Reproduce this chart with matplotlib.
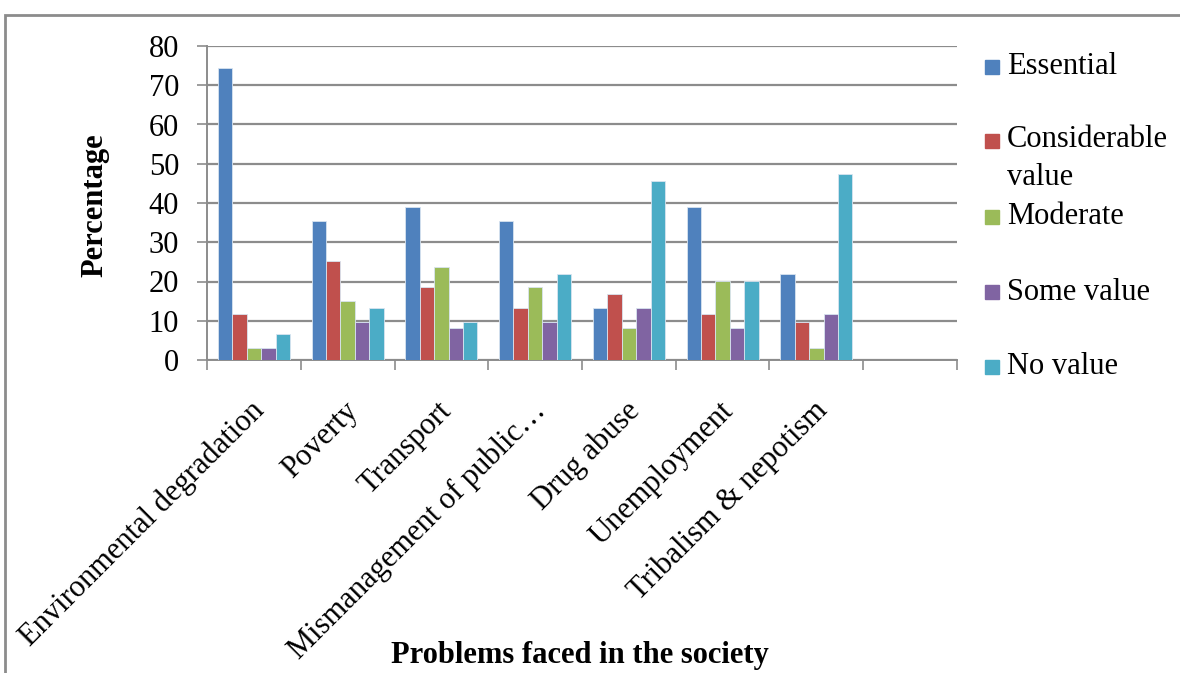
import numpy as np
import matplotlib
matplotlib.use("Agg")
from matplotlib import pyplot as plt
from matplotlib.patches import Rectangle
import matplotlib.transforms as mtransforms

plt.rcParams['font.family'] = ['Liberation Serif', 'DejaVu Serif']

problems = ['Environmental degradation', 'Poverty', 'Transport',
            'Mismanagement of public…', 'Drug abuse', 'Unemployment',
            'Tribalism & nepotism']
ratings = ['Essential', 'Considerable\nvalue', 'Moderate', 'Some value', 'No value']
colors = ['#4F81BD', '#C0504D', '#9BBB59', '#8064A2', '#4BACC6']

essential = [74.5, 35.5, 38.9, 35.5, 13.3, 38.9, 21.8]
considerable = [11.6, 25.3, 18.5, 13.3, 16.7, 11.6, 9.8]
moderate = [3.0, 15.0, 23.6, 18.5, 8.2, 20.2, 3.0]
some_value = [3.0, 9.8, 8.2, 9.8, 13.3, 8.2, 11.6]
no_value = [6.5, 13.3, 9.8, 21.8, 45.7, 20.2, 47.4]
series = [essential, considerable, moderate, some_value, no_value]

W, H = 1180, 673
fig = plt.figure(figsize=(W / 100, H / 100), dpi=100)
ax = fig.add_axes([207 / W, 1 - 360 / H, (957 - 207) / W, (360 - 46) / H])

# 8 slots on the category axis, the last one is left empty
x = np.arange(len(problems))
bw = 0.154
for i, vals in enumerate(series):
    ax.bar(x + (i - 2) * bw, vals, width=bw, color=colors[i],
           edgecolor='#d8e4f0', linewidth=0.6, zorder=3)

ax.set_xlim(-0.5, 7.5)
ax.set_ylim(0, 80)
ax.set_yticks(range(0, 81, 10))
ax.yaxis.grid(True, color='#8c8c8c', linewidth=1.6, zorder=0)

ax.set_xticks(np.arange(0, 9) - 0.5, minor=False)
ax.set_xticklabels([])
ax.set_xticks(x, minor=True)
ax.set_xticklabels(problems, minor=True, rotation=45, ha='right',
                   rotation_mode='anchor', fontsize=22)
ax.tick_params(axis='x', which='minor', length=0, pad=26)
ax.tick_params(axis='x', which='major', length=7, color='#8c8c8c', width=1.2)
ax.tick_params(axis='y', length=7, color='#8c8c8c', width=1.2, labelsize=22, pad=13)
shift = mtransforms.ScaledTranslation(-4 / 100, 0, fig.dpi_scale_trans)
for lab in ax.xaxis.get_minorticklabels():
    lab.set_transform(lab.get_transform() + shift)

for s in ['top', 'right']:
    ax.spines[s].set_visible(False)
for s in ['left', 'bottom']:
    ax.spines[s].set_color('#8c8c8c')
    ax.spines[s].set_linewidth(1.4)

fig.text(95 / W, 1 - 205 / H, 'Percentage', rotation=90, ha='center',
         va='center', fontsize=22, fontweight='bold')
fig.text(580 / W, 1 - 656 / H, 'Problems faced in the society', ha='center',
         va='center', fontsize=22, fontweight='bold')

# legend drawn by hand, one marker per rating
leg_y = [67, 141, 217, 292, 367]
for lab, c, y in zip(ratings, colors, leg_y):
    fig.patches.append(Rectangle((985 / W, 1 - (y + 7) / H), 14 / W, 14 / H,
                                 transform=fig.transFigure, color=c))
    if '\n' in lab:
        fig.text(1007 / W, 1 - (y - 16) / H, lab, ha='left', va='top',
                 fontsize=22, linespacing=1.4)
    else:
        fig.text(1007 / W, 1 - y / H, lab, ha='left', va='center', fontsize=22)

# outer chart frame
fig.patches.append(Rectangle((5 / W, -0.1), 1.2, 1 - 15 / H + 0.1,
                             transform=fig.transFigure, fill=False,
                             edgecolor='#8c8c8c', linewidth=2))

fig.savefig('out.png', dpi=100)
